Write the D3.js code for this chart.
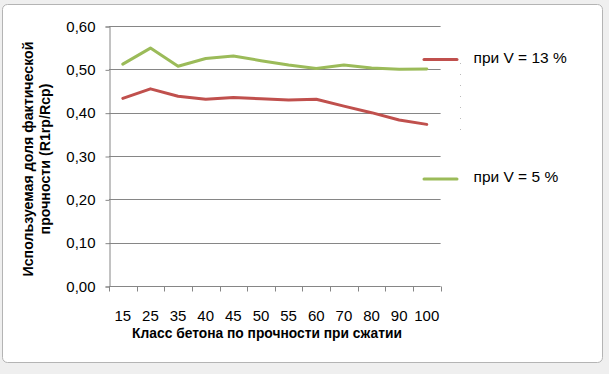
<!DOCTYPE html>
<html>
<head>
<meta charset="utf-8">
<script src="https://cdn.jsdelivr.net/npm/d3@7"></script>
<style>
  body { margin: 0; background: #eeeeee; }
  text { font-family: "Liberation Sans", Arial, sans-serif; }
</style>
</head>
<body>
<div id="chart"></div>
<script>
// data
var classes = ['15', '25', '35', '40', '45', '50', '55', '60', '70', '80', '90', '100'];
var v13 = [0.433, 0.455, 0.438, 0.431, 0.435, 0.432, 0.429, 0.431, 0.415, 0.400, 0.383, 0.373];
var v5 = [0.512, 0.549, 0.507, 0.525, 0.531, 0.520, 0.510, 0.502, 0.510, 0.503, 0.500, 0.501];
var y_ticks = [0, 0.1, 0.2, 0.3, 0.4, 0.5, 0.6];
var series_names = ['при V = 13 %', 'при V = 5 %'];
var series_colors = ['#c0504d', '#9bbb59'];

var chart_width = 609;
var chart_height = 374;
var plot = { left: 109, right: 440.6, top: 26, bottom: 286 };

var svg = d3
  .select('#chart')
  .append('svg')
  .attr('width', chart_width)
  .attr('height', chart_height);

// window frame
svg.append('rect')
  .attr('x', 0).attr('y', 0)
  .attr('width', chart_width).attr('height', chart_height)
  .attr('fill', '#efefef');
svg.append('rect')
  .attr('x', 2.5).attr('y', 4.5)
  .attr('width', 600).attr('height', 358)
  .attr('rx', 5)
  .attr('fill', '#ffffff')
  .attr('stroke', '#b4b4b4');

//scales
var x_scale = d3
  .scaleBand()
  .domain(classes)
  .range([plot.left, plot.right]);
var y_scale = d3
  .scaleLinear()
  .domain([0, 0.6])
  .range([plot.bottom, plot.top]);

// gridlines
svg.append('g')
  .selectAll('line')
  .data(y_ticks.slice(1))
  .enter()
  .append('line')
  .attr('x1', plot.left)
  .attr('x2', plot.right)
  .attr('y1', function(d) { return Math.round(y_scale(d)) + 0.5; })
  .attr('y2', function(d) { return Math.round(y_scale(d)) + 0.5; })
  .attr('stroke', '#868686');

// y axis
var y_axis = d3.axisLeft(y_scale)
  .tickValues(y_ticks)
  .tickSize(4)
  .tickPadding(10)
  .tickFormat(function(d) { return d.toFixed(2).replace('.', ','); });
var gy = svg.append('g')
  .attr('transform', 'translate(' + (plot.left + 0.5) + ',0.5)')
  .call(y_axis);

// x axis, ticks between categories like excel
var x_axis = d3.axisBottom(x_scale).tickSize(0).tickPadding(24);
var gx = svg.append('g')
  .attr('transform', 'translate(0,' + (Math.round(plot.bottom) + 0.5) + ')')
  .call(x_axis);
gx.selectAll('.tick.edge')
  .data(d3.range(classes.length + 1))
  .enter()
  .append('line')
  .attr('x1', function(d) { return Math.round(plot.left + d * x_scale.step()) + 0.5; })
  .attr('x2', function(d) { return Math.round(plot.left + d * x_scale.step()) + 0.5; })
  .attr('y1', 0)
  .attr('y2', 5)
  .attr('stroke', '#868686');

[gx, gy].forEach(function(g) {
  g.select('.domain').attr('stroke', '#868686');
  g.selectAll('.tick line').attr('stroke', '#868686');
  g.selectAll('text')
    .attr('font-family', '"Liberation Sans", Arial, sans-serif')
    .attr('font-size', 15)
    .attr('fill', '#000');
});
gx.select('.domain').attr('d', 'M' + plot.left + ',0H' + plot.right);

// lines
var line = d3.line()
  .x(function(d, i) { return x_scale(classes[i]) + x_scale.bandwidth() / 2; })
  .y(function(d) { return y_scale(d); });

[v13, v5].forEach(function(s, k) {
  svg.append('path')
    .datum(s)
    .attr('d', line)
    .attr('fill', 'none')
    .attr('stroke', series_colors[k])
    .attr('stroke-width', 3)
    .attr('stroke-linejoin', 'round')
    .attr('stroke-linecap', 'round');
});

// legend
var legend_y = [59.5, 179];
series_names.forEach(function(name, k) {
  svg.append('line')
    .attr('x1', 424).attr('x2', 457)
    .attr('y1', legend_y[k]).attr('y2', legend_y[k])
    .attr('stroke', series_colors[k])
    .attr('stroke-width', 3)
    .attr('stroke-linecap', 'round');
  svg.append('text')
    .attr('x', 473.5)
    .attr('y', legend_y[k] + 3)
    .attr('font-size', 15.5)
    .attr('fill', '#000')
    .text(name);
});
// leftover of the legend box
svg.append('line')
  .attr('x1', 460.5).attr('x2', 460.5)
  .attr('y1', 63).attr('y2', 134)
  .attr('stroke', '#bbbbbb')
  .attr('stroke-dasharray', '1,10');

// axis titles
svg.append('text')
  .attr('x', 267)
  .attr('y', 338)
  .attr('text-anchor', 'middle')
  .attr('font-size', 13.8)
  .attr('font-weight', 'bold')
  .text('Класс бетона по прочности при сжатии');

var ytitle = svg.append('text')
  .attr('transform', 'translate(0,159) rotate(-90)')
  .attr('text-anchor', 'middle')
  .attr('font-size', 14.2)
  .attr('font-weight', 'bold');
ytitle.append('tspan').attr('x', 0).attr('y', 33).text('Используемая доля фактической');
ytitle.append('tspan').attr('x', 0).attr('y', 50).text('прочности (R1rp/Rcp)');
</script>
</body>
</html>
